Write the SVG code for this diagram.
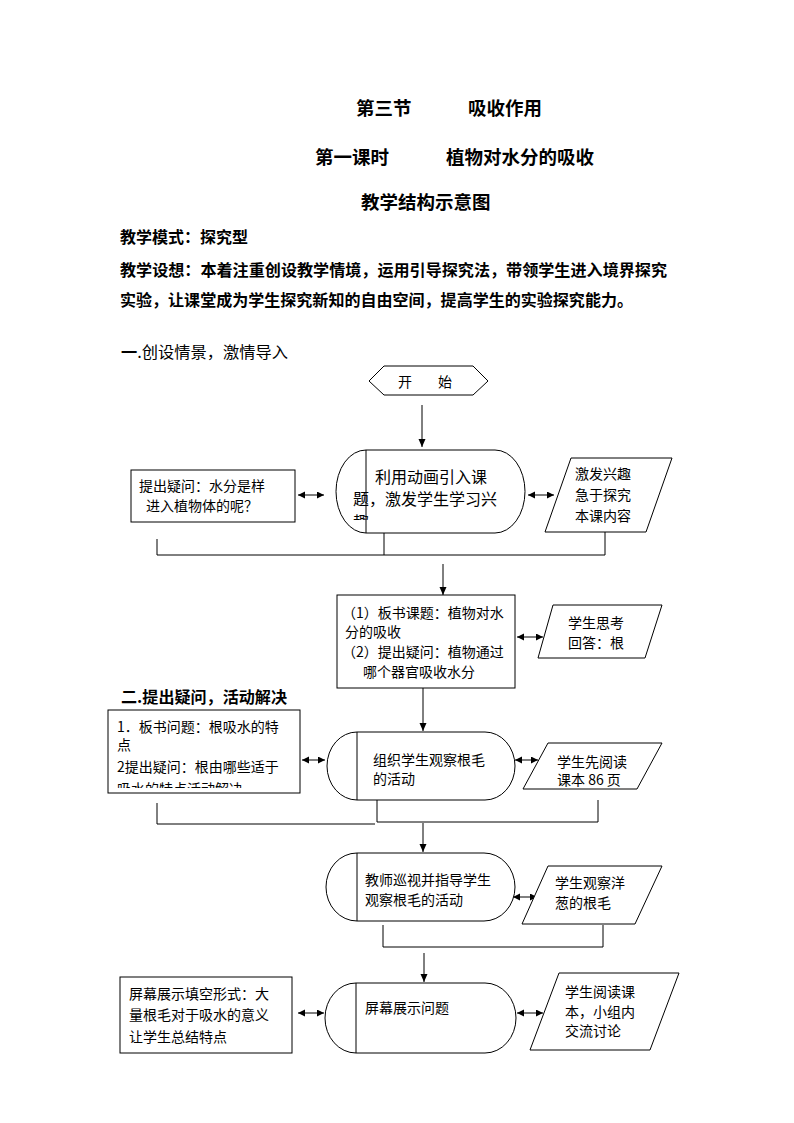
<svg xmlns="http://www.w3.org/2000/svg" width="794" height="1123" viewBox="0 0 794 1123">
<style>
text{font-family:"Noto Sans CJK SC","Liberation Sans",sans-serif;fill:#000}
.t{font-size:18.5px;font-weight:700}
.b{font-size:16px;font-weight:700}
.h{font-size:15.5px}
.n{font-size:14px}
.m{font-size:16px}
.s{fill:#fff;stroke:#000;stroke-width:1}
.c{fill:none;stroke:#000;stroke-width:1}
.a{fill:none;stroke:#000;stroke-width:1;marker-end:url(#ah)}
.d{fill:none;stroke:#000;stroke-width:1;marker-start:url(#ah2);marker-end:url(#ah2)}
</style>
<defs>
<marker id="ah" markerUnits="userSpaceOnUse" markerWidth="8" markerHeight="8" refX="8" refY="3.5" orient="auto"><path d="M0,0 L8,3.5 L0,7 z" fill="#000"/></marker>
<marker id="ah2" markerUnits="userSpaceOnUse" markerWidth="8" markerHeight="8" refX="7" refY="3.5" orient="auto-start-reverse"><path d="M0,0 L7,3.5 L0,7 z" fill="#000"/></marker>
<clipPath id="cl1"><rect x="340" y="505" width="180" height="15"/></clipPath>
<clipPath id="cl2"><rect x="110" y="776" width="188" height="12"/></clipPath>
</defs>

<g id="titles">
<text class="t" x="356" y="115">第三节</text>
<text class="t" x="468" y="115">吸收作用</text>
<text class="t" x="315" y="164">第一课时</text>
<text class="t" x="446" y="164">植物对水分的吸收</text>
<text class="t" x="361" y="209">教学结构示意图</text>
<text class="b" x="120" y="243">教学模式：探究型</text>
<text class="b" x="120" y="276" textLength="547" lengthAdjust="spacingAndGlyphs">教学设想：本着注重创设教学情境，运用引导探究法，带领学生进入境界探究</text>
<text class="b" x="120" y="306" textLength="513" lengthAdjust="spacingAndGlyphs">实验，让课堂成为学生探究新知的自由空间，提高学生的实验探究能力。</text>
<text class="h" x="121" y="358" textLength="167" lengthAdjust="spacingAndGlyphs"><tspan font-weight="700">一</tspan>.创设情景，激情导入</text>
<text class="h" x="121" y="703" textLength="166" lengthAdjust="spacingAndGlyphs" font-weight="700">二.提出疑问，活动解决</text>
</g>

<g id="connectors">
<line class="a" x1="422" y1="405" x2="422" y2="447"/>
<line class="d" x1="298" y1="495" x2="324" y2="495"/>
<line class="d" x1="528" y1="495" x2="554" y2="495"/>
<path class="c" d="M157,539 V555 H605 V532 M384,533 V555"/>
<line class="a" x1="443" y1="564" x2="443" y2="595"/>
<line class="d" x1="517" y1="637" x2="543" y2="637"/>
<line class="a" x1="423" y1="688" x2="423" y2="731"/>
<line class="d" x1="302" y1="760" x2="325" y2="760"/>
<line class="d" x1="515" y1="760" x2="538" y2="760"/>
<path class="c" d="M157,803 V824 H375 M377,800 V822 H598 V800"/>
<line class="a" x1="423" y1="823" x2="423" y2="852"/>
<line class="d" x1="513" y1="897" x2="537" y2="897"/>
<path class="c" d="M383,925 V947 H603 V925"/>
<line class="a" x1="424" y1="953" x2="424" y2="982"/>
<line class="d" x1="298" y1="1013" x2="324" y2="1013"/>
<line class="d" x1="517" y1="1013" x2="543" y2="1013"/>
</g>

<g id="start">
<polygon class="s" points="369,381 384,366 473,366 488,381 473,395 384,395"/>
<text class="n" x="398" y="387" font-size="15">开</text>
<text class="n" x="438" y="387" font-size="15">始</text>
</g>

<g id="q1">
<rect class="s" x="131" y="470" width="164" height="52"/>
<text class="n" x="139" y="491">提出疑问：水分是样</text>
<text class="n" x="146" y="511">进入植物体的呢？</text>
</g>

<g id="p1">
<path class="s" d="M366,450 H495 A30,41.5 0 0 1 495,533 H366 A30,41.5 0 0 1 366,450 Z"/>
<line class="c" x1="366" y1="450" x2="366" y2="533"/>
<text class="m" x="375" y="483">利用动画引入课</text>
<text class="m" x="353" y="505">题，激发学生学习兴</text>
<text class="m" x="353" y="528" clip-path="url(#cl1)">趣</text>
</g>

<g id="r1">
<polygon class="s" points="571,458 672,458 646,532 545,532"/>
<text class="n" x="575" y="479">激发兴趣</text>
<text class="n" x="575" y="500">急于探究</text>
<text class="n" x="575" y="521">本课内容</text>
</g>

<g id="p2">
<rect class="s" x="337" y="595" width="178" height="93"/>
<text class="n" x="342" y="618">（1）板书课题：植物对水</text>
<text class="n" x="345" y="637">分的吸收</text>
<text class="n" x="342" y="657">（2）提出疑问：植物通过</text>
<text class="n" x="363" y="677">哪个器官吸收水分</text>
</g>

<g id="r2">
<polygon class="s" points="553,605 662,605 645,658 538,658"/>
<text class="n" x="568" y="628">学生思考</text>
<text class="n" x="568" y="648">回答：根</text>
</g>

<g id="q3">
<rect class="s" x="108" y="710" width="192" height="83"/>
<text class="n" x="117" y="732">1．板书问题：根吸水的特</text>
<text class="n" x="117" y="750">点</text>
<text class="n" x="117" y="772">2提出疑问：根由哪些适于</text>
<text class="n" x="117" y="794" clip-path="url(#cl2)">吸水的特点活动解决</text>
</g>

<g id="p3">
<path class="s" d="M357,732 H485 A30,34 0 0 1 485,800 H357 A30,34 0 0 1 357,732 Z"/>
<line class="c" x1="357" y1="732" x2="357" y2="800"/>
<text class="n" x="373" y="765">组织学生观察根毛</text>
<text class="n" x="373" y="784">的活动</text>
</g>

<g id="r3">
<polygon class="s" points="548,743 662,743 637,789 523,789"/>
<text class="n" x="557" y="767">学生先阅读</text>
<text class="n" x="557" y="785">课本 86 页</text>
</g>

<g id="p4">
<path class="s" d="M357,853 H484 A31,34 0 0 1 484,921 H357 A31,34 0 0 1 357,853 Z"/>
<line class="c" x1="357" y1="853" x2="357" y2="921"/>
<text class="n" x="365" y="885">教师巡视并指导学生</text>
<text class="n" x="365" y="905">观察根毛的活动</text>
</g>

<g id="r4">
<polygon class="s" points="548,866 662,866 635,924 522,924"/>
<text class="n" x="555" y="888">学生观察洋</text>
<text class="n" x="555" y="908">葱的根毛</text>
</g>

<g id="q5">
<rect class="s" x="120" y="977" width="172" height="76"/>
<text class="n" x="129" y="999">屏幕展示填空形式：大</text>
<text class="n" x="129" y="1020">量根毛对于吸水的意义</text>
<text class="n" x="129" y="1042">让学生总结特点</text>
</g>

<g id="p5">
<path class="s" d="M356,983 H485 A31,35 0 0 1 485,1053 H356 A31,35 0 0 1 356,983 Z"/>
<line class="c" x1="356" y1="983" x2="356" y2="1053"/>
<text class="n" x="365" y="1013">屏幕展示问题</text>
</g>

<g id="r5">
<polygon class="s" points="559,973 679,973 650,1050 530,1050"/>
<text class="n" x="565" y="997">学生阅读课</text>
<text class="n" x="565" y="1017">本，小组内</text>
<text class="n" x="565" y="1036">交流讨论</text>
</g>
</svg>
